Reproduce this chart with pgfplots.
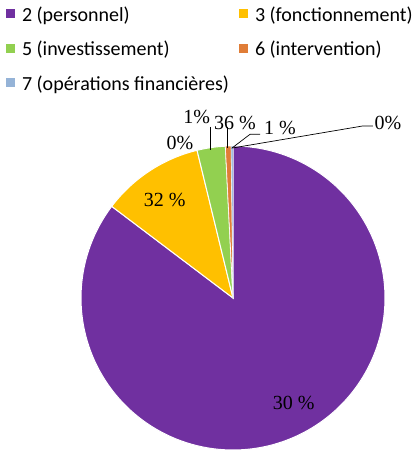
\documentclass[border=0pt]{standalone}
\usepackage{fontspec}
\setmainfont{Carlito}
\newfontfamily\tnr{Liberation Serif}
\usepackage{pgfplots}
\pgfplotsset{compat=1.18}
\definecolor{cA}{RGB}{112,48,160}
\definecolor{cB}{RGB}{255,192,0}
\definecolor{cC}{RGB}{146,208,80}
\definecolor{cD}{RGB}{224,125,55}
\definecolor{cE}{RGB}{149,179,215}
\newcommand\st{\rule[-5pt]{0pt}{21pt}}
% shares of the pie (percent)
\def\sA{85.3}
\def\sB{10.9}
\def\sC{3.0}
\def\sD{0.6}
\def\sE{0.2}
\begin{document}
\begin{tikzpicture}
\useasboundingbox (-81pt,-10pt) rectangle (335pt,450pt);
\pgfmathsetmacro\aA{90}
\pgfmathsetmacro\aB{\aA-3.6*\sA}
\pgfmathsetmacro\aC{\aB-3.6*\sB}
\pgfmathsetmacro\aD{\aC-3.6*\sC}
\pgfmathsetmacro\aE{\aD-3.6*\sD}
\pgfmathsetmacro\aF{\aE-3.6*\sE}
\begin{axis}[at={(0pt,0pt)}, anchor=south west, scale only axis,
  width=304pt, height=304pt, xmin=-1, xmax=1, ymin=-1, ymax=1,
  hide axis, clip=false,
  legend columns=2,
  legend image code/.code={\fill[#1,draw=none] (0pt,-4.5pt) rectangle (9pt,4.5pt);},
  legend style={at={(axis description cs:-0.2467,1.4638)}, anchor=north west,
    draw=none, fill=none, inner sep=0pt, outer sep=0pt,
    column sep=7pt, row sep=17pt,
    font=\fontsize{20}{24}\selectfont,
    nodes={inner sep=0pt}},
  legend cell align=left]
\addplot[fill=cA, draw=white, line width=1pt, domain=\aB:\aA, samples=150] ({cos(x)},{sin(x)}) -- (axis cs:0,0) -- cycle;
\addlegendentry{\st\makebox[210pt][l]{2 (personnel)}}
\addplot[fill=cB, draw=white, line width=1pt, domain=\aC:\aB, samples=40] ({cos(x)},{sin(x)}) -- (axis cs:0,0) -- cycle;
\addlegendentry{\st 3 (fonctionnement)}
\addplot[fill=cC, draw=white, line width=1pt, domain=\aD:\aC, samples=15] ({cos(x)},{sin(x)}) -- (axis cs:0,0) -- cycle;
\addlegendentry{\st\makebox[210pt][l]{5 (investissement)}}
\addplot[fill=cD, draw=white, line width=0.6pt, domain=\aE:\aD, samples=5] ({cos(x)},{sin(x)}) -- (axis cs:0,0) -- cycle;
\addlegendentry{\st 6 (intervention)}
\addplot[fill=cE, draw=white, line width=0.3pt, domain=\aF:\aE, samples=3] ({cos(x)},{sin(x)}) -- (axis cs:0,0) -- cycle;
\addlegendentry{\st\makebox[210pt][l]{7 (opérations financières)}}
% leader lines
\addplot[black, line width=0.7pt, forget plot] coordinates {(-0.151,1.125) (-0.151,0.974)};
\addplot[black, line width=0.7pt, forget plot] coordinates {(-0.0375,1.125) (-0.0375,0.987)};
\addplot[black, line width=0.7pt, forget plot] coordinates {(0.178,1.077) (0.112,1.077) (-0.0086,0.985)};
\addplot[black, line width=0.7pt, forget plot] coordinates {(0.921,1.132) (0.855,1.132) (-0.002,0.987)};
% data labels
\begin{scope}[font=\tnr\fontsize{20}{24}\selectfont]
\node at (axis cs:0.40,-0.69) {30 \%};
\node at (axis cs:-0.45,0.645) {32 \%};
\node at (axis cs:-0.349,1.02) {0\%};
\node at (axis cs:-0.239,1.193) {1\%};
\node at (axis cs:0.013,1.153) {36 \%};
\node at (axis cs:0.309,1.118) {1 \%};
\node at (axis cs:1.02,1.153) {0\%};
\end{scope}
\end{axis}
\end{tikzpicture}
\end{document}
